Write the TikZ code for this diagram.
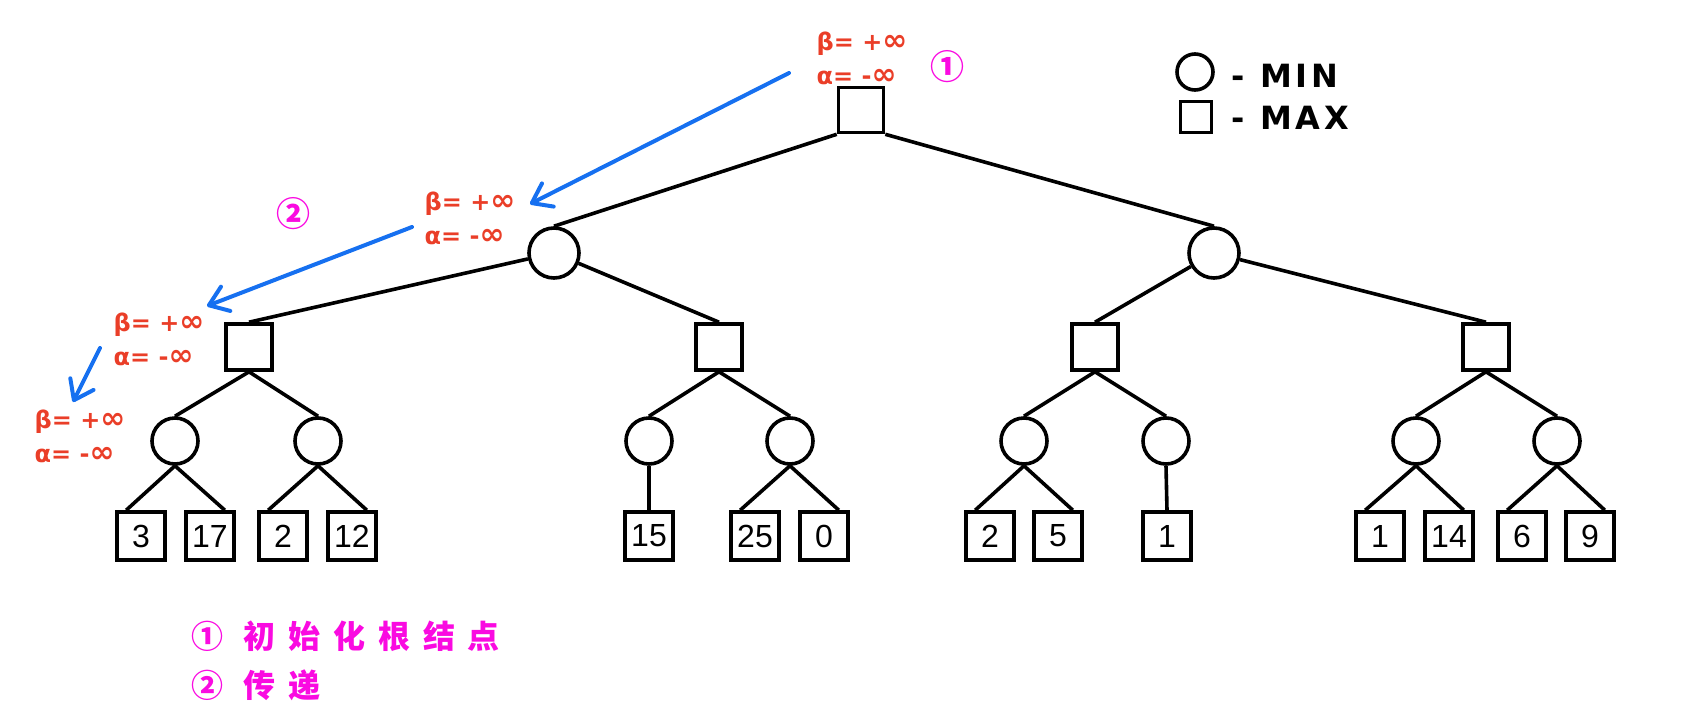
\documentclass[tikz,border=0pt]{standalone}
\usepackage{fontspec}
\setmainfont{DejaVu Sans}
\newfontfamily\digitfont{Liberation Sans}
\newfontfamily\legendfont[LetterSpace=12]{DejaVu Sans}
\newfontfamily\cjkfont[LetterSpace=40]{Noto Sans CJK SC}
\newfontfamily\tagfont{Noto Sans CJK SC}
\usetikzlibrary{arrows.meta, shapes, calc}

\definecolor{valred}{RGB}{234,62,40}
\definecolor{passblue}{RGB}{22,112,240}
\definecolor{notepink}{RGB}{250,10,225}

\newcommand{\binf}{{\fontsize{15}{17}\selectfont ∞}}

\begin{document}
\begin{tikzpicture}
        [x=0.5pt, y=-0.5pt, line width=1.8pt,
        maxnode/.style={rectangle, draw=black, minimum size=23pt, inner sep=0pt},
        minnode/.style={circle, draw=black, minimum size=23pt, inner sep=0pt},
        leaf/.style={rectangle, draw=black, minimum size=24pt, inner sep=0pt, font=\digitfont\fontsize{16}{16}\selectfont},
        bounds/.style={text=valred, align=left, inner sep=0pt, font=\bfseries\fontsize{12}{17}\selectfont},
        numtag/.style={text=notepink, inner sep=0pt, font=\tagfont\bfseries\fontsize{17}{17}\selectfont},
        pass/.style={draw=passblue, line width=2pt, line cap=round, -{Straight Barb[length=9pt,width=13pt,round]}}]
        \useasboundingbox (0,0) rectangle (1687,723);

        % tree
        \node[maxnode, minimum size=22.5pt] (R) at (861,110) {};

        \node[minnode, minimum size=25pt] (A) at (554,253) {};
        \node[minnode, minimum size=25pt] (B) at (1214,253) {};

        \node[maxnode] (C1) at (249,347) {};
        \node[maxnode] (C2) at (719,347) {};
        \node[maxnode] (C3) at (1095,347) {};
        \node[maxnode] (C4) at (1486,347) {};

        \node[minnode] (D1) at (175,441) {};
        \node[minnode] (D2) at (318,441) {};
        \node[minnode] (D3) at (649,441) {};
        \node[minnode] (D4) at (790,441) {};
        \node[minnode] (D5) at (1024,441) {};
        \node[minnode] (D6) at (1166,441) {};
        \node[minnode] (D7) at (1416,441) {};
        \node[minnode] (D8) at (1557,441) {};

        % leaves
        \node[leaf] (L1)  at (141,536)  {3};
        \node[leaf] (L2)  at (210,536)  {17};
        \node[leaf] (L3)  at (283,536)  {2};
        \node[leaf] (L4)  at (352,536)  {12};
        \node[leaf] (L5)  at (649,536)  {15};
        \node[leaf] (L6)  at (755,536)  {25};
        \node[leaf] (L7)  at (824,536)  {0};
        \node[leaf] (L8)  at (990,536)  {2};
        \node[leaf] (L9)  at (1058,536) {5};
        \node[leaf] (L10) at (1167,536) {1};
        \node[leaf] (L11) at (1380,536) {1};
        \node[leaf] (L12) at (1449,536) {14};
        \node[leaf] (L13) at (1522,536) {6};
        \node[leaf] (L14) at (1590,536) {9};

        \path (R.south west) edge (A.north)
              (R.south east) edge (B.north)
              (A)          edge (C1.north)
              (A)          edge (C2.north)
              (B)          edge (C3.north)
              (B)          edge (C4.north)
              (C1.south)   edge (D1.north)
              (C1.south)   edge (D2.north)
              (C2.south)   edge (D3.north)
              (C2.south)   edge (D4.north)
              (C3.south)   edge (D5.north)
              (C3.south)   edge (D6.north)
              (C4.south)   edge (D7.north)
              (C4.south)   edge (D8.north)
              (D1.south)   edge ([xshift=5.5pt]L1.north west)
              (D1.south)   edge ([xshift=-5.5pt]L2.north east)
              (D2.south)   edge ([xshift=5.5pt]L3.north west)
              (D2.south)   edge ([xshift=-5.5pt]L4.north east)
              (D3.south)   edge (L5.north)
              (D4.south)   edge ([xshift=5.5pt]L6.north west)
              (D4.south)   edge ([xshift=-5.5pt]L7.north east)
              (D5.south)   edge ([xshift=5.5pt]L8.north west)
              (D5.south)   edge ([xshift=-5.5pt]L9.north east)
              (D6.south)   edge (L10.north)
              (D7.south)   edge ([xshift=5.5pt]L11.north west)
              (D7.south)   edge ([xshift=-5.5pt]L12.north east)
              (D8.south)   edge ([xshift=5.5pt]L13.north west)
              (D8.south)   edge ([xshift=-5.5pt]L14.north east);

        % alpha / beta values
        \node[bounds] (vR)  at (862,58)  {β= +\binf\\α= -\binf};
        \node[bounds] (vA)  at (470,218) {β= +\binf\\α= -\binf};
        \node[bounds] (vC1) at (159,339) {β= +\binf\\α= -\binf};
        \node[bounds] (vD1) at (80,436)  {β= +\binf\\α= -\binf};

        % passing arrows
        \coordinate (p1s) at (789,73);
        \coordinate (p1e) at (530,204);
        \coordinate (p2s) at (412,227);
        \coordinate (p2e) at (207,306);
        \coordinate (p3s) at (100,348);
        \coordinate (p3e) at (73,402);
        \draw[pass] (p1s) -- (p1e);
        \draw[pass] (p2s) -- (p2e);
        \draw[pass] (p3s) -- (p3e);

        \node[numtag] (t1) at (947,67)  {①};
        \node[numtag] (t2) at (293,214) {②};

        % legend
        \node[minnode, minimum size=18pt] (lgmin) at (1195,72) {};
        \node[maxnode, minimum size=15.5pt] (lgmax) at (1196,117) {};
        \node[anchor=west, inner sep=0pt, font=\legendfont\bfseries\fontsize{16}{16}\selectfont] (lgmintext) at (1230,76) {-\ MIN};
        \node[anchor=west, inner sep=0pt, font=\legendfont\bfseries\fontsize{16}{16}\selectfont] (lgmaxtext) at (1230,118) {-\ MAX};

        % notes
        \node[anchor=west, align=left, inner sep=0pt, text=notepink,
              font=\cjkfont\bfseries\fontsize{16}{24.5}\selectfont] (notes) at (190,661)
        {① 初始化根结点\\② 传递};
\end{tikzpicture}
\end{document}
